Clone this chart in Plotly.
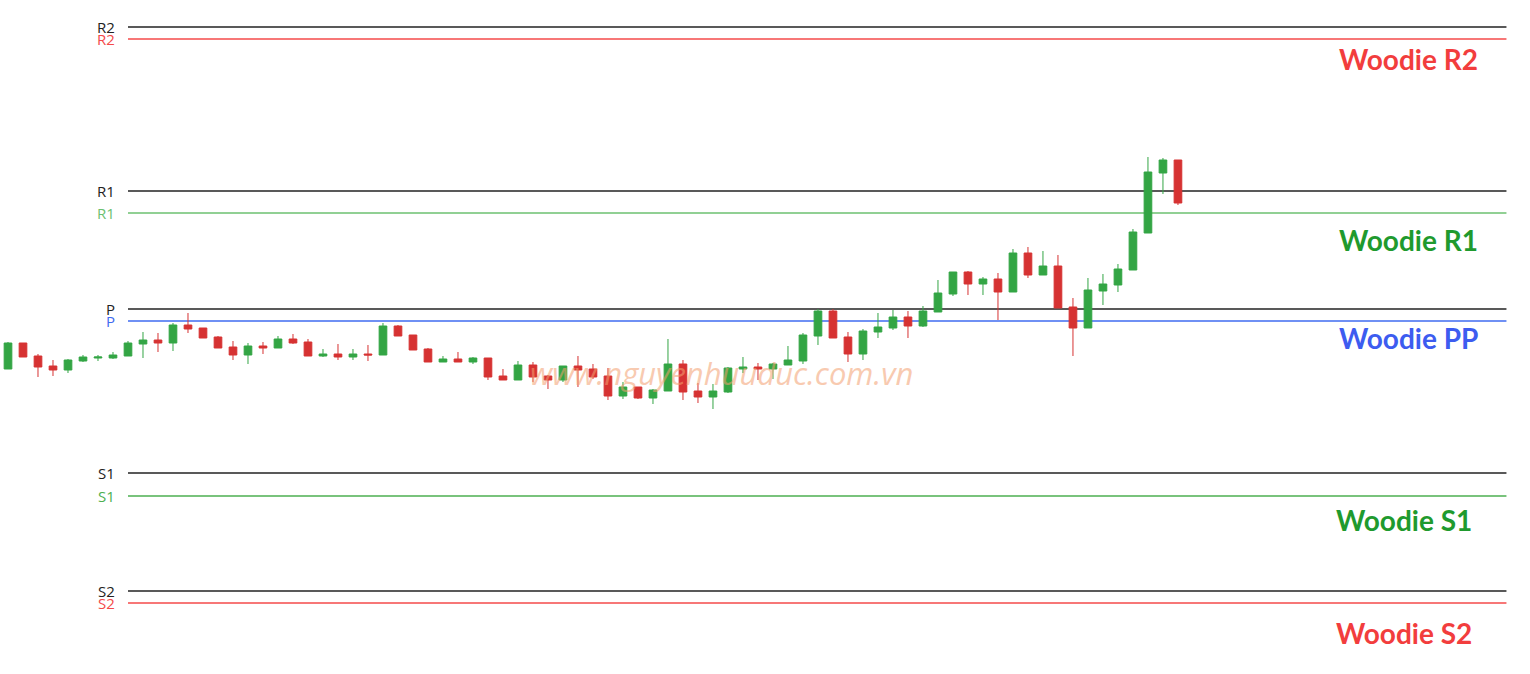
import plotly.graph_objects as go

# Candle data (price units)
idx = list(range(79))
opens = [305, 331, 318, 308, 304, 313, 316, 316, 318, 330, 334, 331, 349, 346, 337, 327, 319, 328, 326, 335,
         332, 318, 320, 317, 320, 319, 348, 339, 325, 312, 315, 312, 316, 298, 294, 309, 298, 294, 308, 305,
         298, 278, 287, 276, 283, 310, 283, 277, 282, 305, 307, 305, 309, 313, 338, 363, 337, 320, 342, 346,
         357, 348, 362, 380, 402, 390, 395, 382, 421, 399, 408, 367, 346, 383, 389, 404, 441, 501, 514]
closes = [331, 317, 307, 304, 314, 317, 317, 319, 331, 334, 331, 349, 345, 336, 326, 319, 328, 326, 335, 331,
          318, 320, 317, 320, 319, 348, 338, 324, 312, 315, 312, 316, 297, 294, 309, 297, 294, 308, 304, 297,
          278, 287, 276, 284, 310, 282, 277, 283, 306, 307, 305, 310, 314, 339, 363, 336, 320, 343, 347, 357,
          348, 363, 381, 402, 390, 395, 382, 421, 399, 408, 366, 346, 384, 390, 405, 442, 502, 514, 471]
highs = [332, 331, 320, 314, 315, 319, 319, 322, 333, 342, 341, 351, 361, 346, 338, 333, 331, 332, 338, 340,
         335, 325, 330, 325, 329, 351, 349, 339, 326, 318, 322, 317, 316, 305, 313, 312, 299, 308, 318, 310,
         306, 292, 287, 285, 335, 314, 291, 290, 307, 317, 311, 311, 328, 341, 365, 365, 342, 345, 361, 364,
         363, 368, 394, 402, 403, 397, 401, 425, 427, 423, 419, 376, 396, 400, 410, 445, 517, 516, 514]
lows = [305, 317, 297, 298, 301, 312, 313, 315, 318, 316, 322, 323, 341, 336, 326, 314, 310, 320, 326, 330,
        318, 317, 314, 314, 313, 319, 338, 324, 312, 312, 312, 310, 294, 294, 294, 292, 285, 292, 287, 295,
        274, 275, 275, 270, 283, 274, 271, 265, 281, 301, 294, 295, 309, 310, 329, 336, 312, 314, 336, 344,
        336, 347, 362, 378, 379, 379, 354, 382, 396, 399, 366, 318, 346, 369, 382, 404, 441, 480, 469]

# Woodie pivot levels (price units)
level_names = ["R2", "R1", "P", "S1", "S2"]
ref_levels = [647, 483, 365, 201, 83]
woodie_levels = [635, 461, 353, 178, 71]
woodie_colors = ["#f44a4a", "#6cc070", "#3f6bf0", "#4caf50", "#f44a4a"]
label_names = ["Woodie R2", "Woodie R1", "Woodie PP", "Woodie S1", "Woodie S2"]
label_colors = ["#f23d3d", "#1f9a2e", "#3d5cf0", "#1f9a2e", "#f23d3d"]
label_y = [615, 434, 336, 154, 41]
label_x = [93.37, 93.37, 93.37, 93.1, 93.1]

fig = go.Figure()

x0, x1 = 8, 99.9
for lvl in ref_levels:
    fig.add_shape(type="line", x0=x0, x1=x1, y0=lvl, y1=lvl, xref="x", yref="y",
                  line=dict(color="#222222", width=1.5), layer="below")
for lvl, c in zip(woodie_levels, woodie_colors):
    fig.add_shape(type="line", x0=x0, x1=x1, y0=lvl, y1=lvl, xref="x", yref="y",
                  line=dict(color=c, width=1.5), layer="below")

fig.add_trace(go.Candlestick(
    x=idx, open=opens, high=highs, low=lows, close=closes,
    increasing=dict(line=dict(color="#33a544", width=1), fillcolor="#33a544"),
    decreasing=dict(line=dict(color="#d63232", width=1), fillcolor="#d63232"),
    whiskerwidth=0, showlegend=False, hoverinfo="skip"))

annotations = []
for name, lvl in zip(level_names, ref_levels):
    annotations.append(dict(x=7.3, y=lvl, xref="x", yref="y", text=name, showarrow=False,
                            xanchor="right", yanchor="middle",
                            font=dict(family="Open Sans", size=15, color="#222222")))
for name, lvl, c in zip(level_names, woodie_levels, woodie_colors):
    annotations.append(dict(x=7.3, y=lvl, xref="x", yref="y", text=name, showarrow=False,
                            xanchor="right", yanchor="middle",
                            font=dict(family="Open Sans", size=15, color=c)))
for t, yv, xv, c in zip(label_names, label_y, label_x, label_colors):
    annotations.append(dict(x=xv, y=yv, xref="x", yref="y", text="<b>" + t + "</b>", showarrow=False,
                            xanchor="center", yanchor="middle",
                            font=dict(family="Lato", size=28, color=c)))
annotations.append(dict(x=47.6, y=301, xref="x", yref="y", text="<i>www.nguyenhuuduc.com.vn</i>",
                        showarrow=False, xanchor="center", yanchor="middle", opacity=0.55,
                        font=dict(family="Open Sans", size=31, color="#f4a070")))

fig.update_layout(
    width=1530, height=674,
    margin=dict(l=0, r=0, t=0, b=0),
    paper_bgcolor="white", plot_bgcolor="white",
    xaxis=dict(range=[-0.533, 101.47], visible=False, rangeslider=dict(visible=False), fixedrange=True),
    yaxis=dict(range=[0, 674], visible=False, fixedrange=True),
    annotations=annotations,
    boxgap=0.27,
)

fig.write_html("out.html", config={"displayModeBar": False},
               post_script="document.body.style.margin='0px';document.body.style.padding='0px';")
